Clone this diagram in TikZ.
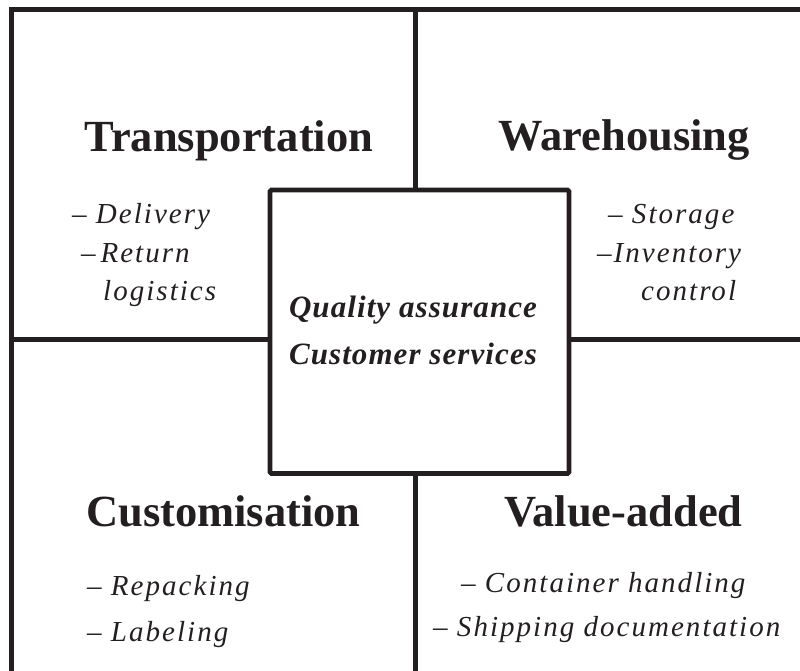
\documentclass[tikz,border=0pt]{standalone}
\usepackage{fontspec}
\setmainfont{Liberation Serif}
\newfontfamily\itemfont[LetterSpace=7]{Liberation Serif}
\newfontfamily\centfont[LetterSpace=3.5]{Liberation Serif}
\definecolor{ink}{HTML}{231F20}
\begin{document}
\begin{tikzpicture}[x=1pt,y=-1pt,
  frameline/.style={draw=ink,line width=5pt},
  divline/.style={draw=ink,line width=4.8pt},
  centerbox/.style={draw=ink,line width=4.8pt,rounded corners=1.5pt,fill=white,minimum width=299pt,minimum height=283.5pt,inner sep=0pt},
  title/.style={anchor=base,inner sep=0pt,text=ink,font=\fontsize{44.5}{48}\selectfont\bfseries},
  entry/.style={anchor=base west,inner sep=0pt,text=ink,font=\fontsize{29}{33}\itemfont\itshape},
  centtext/.style={anchor=base,inner sep=0pt,text=ink,font=\fontsize{31}{35}\centfont\bfseries\itshape}]
\useasboundingbox (0,0) rectangle (800,670);
\clip (0,0) rectangle (800,670);
% frame and dividers
\coordinate (tl) at (11.5,9.5);
\coordinate (tr) at (820,9.5);
\coordinate (bl) at (11.5,690);
\coordinate (topmid) at (415.8,9.5);
\coordinate (botmid) at (415.8,690);
\coordinate (leftmid) at (11.5,339.5);
\coordinate (rightmid) at (820,339.5);
\draw[frameline,line join=miter] (bl) -- (tl) -- (tr);
\node[centerbox] (center) at (419.5,331.75) {};
\draw[divline] (topmid) -- (topmid |- center.north);
\draw[divline] (botmid) -- (botmid |- center.south);
\draw[divline] (leftmid) -- (leftmid -| center.west);
\draw[divline] (rightmid) -- (rightmid -| center.east);
% center text
\node[centtext] (qa) at (413,317) {Quality assurance};
\node[centtext] (cs) at (413,364) {Customer services};
% titles
\node[title] (transp) at (229,151) {Transportation};
\node[title] (wareh) at (624,150.5) {Warehousing};
\node[title] (custom) at (223.5,526) {Customisation};
\node[title] (valadd) at (623.5,526) {Value-added};
% entries
\node[entry] (e1) at (72,223) {– Delivery};
\node[entry] (e2) at (81,262) {–\,Return};
\node[entry] (e3) at (103,300) {logistics};
\node[entry] (e4) at (608,223) {– Storage};
\node[entry] (e5) at (597,262) {–Inventory};
\node[entry] (e6) at (641,300) {control};
\node[entry] (e7) at (87,595) {– Repacking};
\node[entry] (e8) at (87,641) {– Labeling};
\node[entry] (e9) at (461,592) {– Container handling};
\node[entry] (e10) at (433,636) {– Shipping documentation};
\end{tikzpicture}
\end{document}
